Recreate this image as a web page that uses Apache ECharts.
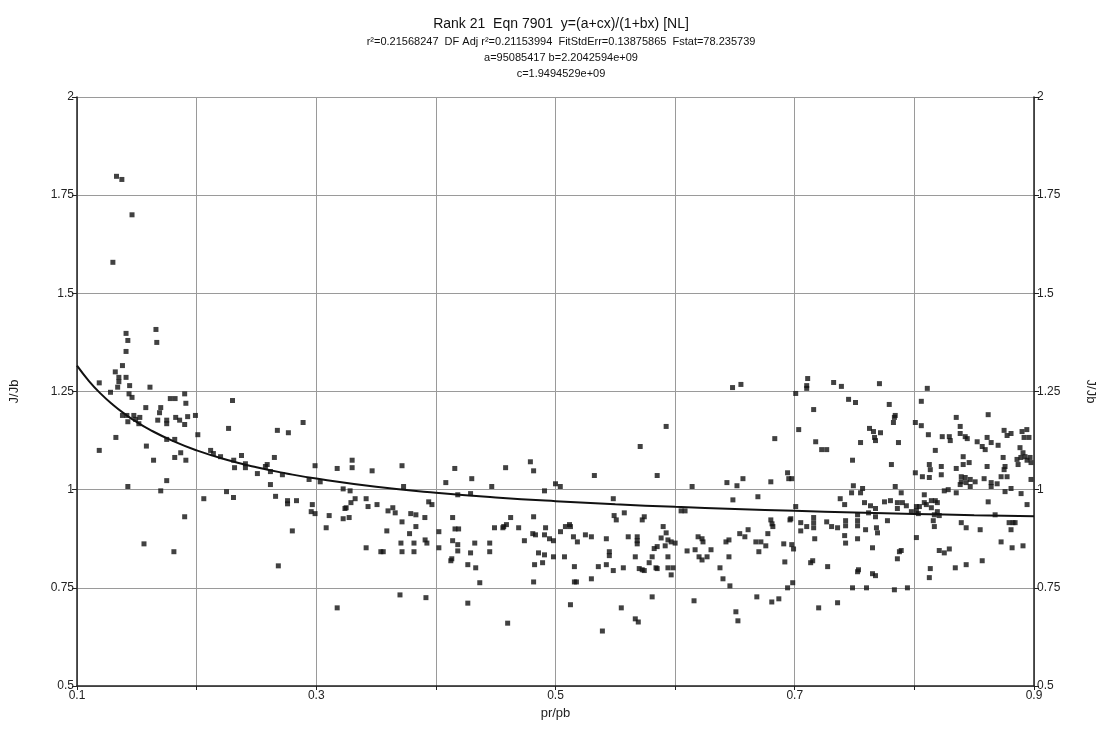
<!DOCTYPE html>
<html>
<head>
<meta charset="utf-8">
<script src="https://cdn.jsdelivr.net/npm/echarts@6/dist/echarts.min.js"></script>
<style>html,body{margin:0;padding:0;background:#fff}#c{width:1105px;height:731px}</style>
</head>
<body>
<div id="c"></div>
<script>
const titleLines = [
  "Rank 21  Eqn 7901  y=(a+cx)/(1+bx) [NL]",
  "r\u00B2=0.21568247  DF Adj r\u00B2=0.21153994  FitStdErr=0.13875865  Fstat=78.235739",
  "a=95085417 b=2.2042594e+09",
  "c=1.9494529e+09"
];
const xName = "pr/pb";
const yName = "J/Jb";
const xTickLabels = ["0.1","0.3","0.5","0.7","0.9"];

const fitX = [0.10,0.11,0.12,0.13,0.14,0.15,0.16,0.18,0.20,0.225,0.25,0.275,0.30,0.35,0.40,0.45,0.50,0.55,0.60,0.65,0.70,0.75,0.80,0.85,0.90];
const fitY = [1.3158,1.2766,1.2439,1.2162,1.1925,1.1720,1.1540,1.1241,1.1001,1.0761,1.0569,1.0413,1.0282,1.0076,0.9922,0.9803,0.9707,0.9628,0.9563,0.9508,0.9460,0.9419,0.9383,0.9351,0.9323];

const pointsLeft = [
[0.133,1.798],[0.1375,1.79],[0.146,1.70],[0.130,1.579],[0.141,1.398],[0.166,1.408],[0.1425,1.38],[0.1667,1.375],
[0.141,1.352],[0.138,1.316],[0.132,1.30],[0.135,1.286],[0.135,1.275],[0.141,1.286],[0.1186,1.272],[0.134,1.261],[0.144,1.265],[0.128,1.248],[0.161,1.261],[0.1435,1.244],[0.146,1.235],[0.19,1.244],[0.178,1.232],[0.182,1.232],[0.191,1.22],[0.1575,1.209],[0.17,1.209],[0.169,1.196],[0.138,1.189],[0.1417,1.189],[0.1475,1.189],[0.1525,1.184],[0.149,1.179],[0.1425,1.173],[0.1517,1.168],[0.1675,1.177],[0.175,1.177],[0.175,1.168],[0.1825,1.184],[0.1858,1.177],[0.1925,1.186],[0.19,1.166],[0.199,1.189],[0.201,1.14],[0.2267,1.156],[0.1325,1.133],[0.175,1.128],[0.1817,1.128],[0.1186,1.10],[0.158,1.111],[0.1867,1.094],[0.1817,1.082],[0.164,1.075],[0.191,1.075],[0.2117,1.10],[0.214,1.092],[0.22,1.084],[0.175,1.023],[0.17,0.997],[0.1425,1.008],[0.206,0.977],[0.225,0.995],[0.19,0.931],[0.156,0.862],[0.181,0.842]
];
const pointsMidLeft = [
[0.23,1.227],[0.289,1.171],[0.2675,1.151],[0.2767,1.145],[0.2375,1.087],[0.231,1.075],[0.2317,1.056],[0.2408,1.066],[0.2408,1.056],[0.265,1.082],[0.259,1.064],[0.2575,1.059],[0.2508,1.041],[0.2617,1.046],[0.2717,1.038],[0.2617,1.013],[0.294,1.026],[0.299,1.061],[0.3033,1.02],[0.3175,1.054],[0.33,1.075],[0.33,1.056],[0.3467,1.048],[0.3717,1.061],[0.373,1.008],[0.2308,0.98],[0.266,0.983],[0.276,0.972],[0.276,0.964],[0.2835,0.972],[0.2967,0.962],[0.2958,0.944],[0.299,0.939],[0.3225,1.002],[0.3283,0.997],[0.3325,0.977],[0.329,0.967],[0.325,0.954],[0.324,0.952],[0.3417,0.977],[0.3433,0.957],[0.3508,0.962],[0.364,0.954],[0.366,0.941],[0.36,0.946],[0.3108,0.934],[0.3225,0.926],[0.3275,0.929],[0.3083,0.903],[0.3717,0.918],[0.379,0.939],[0.3833,0.936],[0.3833,0.906],[0.359,0.895],[0.378,0.888],[0.28,0.895],[0.3417,0.852],[0.354,0.842],[0.356,0.842],[0.3708,0.864],[0.3717,0.842],[0.3817,0.864],[0.3817,0.842],[0.2683,0.806],[0.37,0.732],[0.3175,0.699]
];
const pointsMid = [
[0.4158,1.054],[0.4083,1.018],[0.43,1.028],[0.429,0.99],[0.4183,0.987],[0.4467,1.008],[0.4583,1.056],[0.479,1.071],[0.4817,1.048],[0.4908,0.997],[0.5,1.015],[0.504,1.008],[0.5325,1.036],[0.394,0.969],[0.3967,0.962],[0.3908,0.929],[0.391,0.872],[0.3925,0.864],[0.4025,0.893],[0.4025,0.852],[0.414,0.929],[0.416,0.9],[0.419,0.9],[0.414,0.87],[0.4183,0.86],[0.4183,0.844],[0.4133,0.824],[0.4125,0.819],[0.4267,0.809],[0.429,0.839],[0.4325,0.864],[0.4333,0.801],[0.4367,0.763],[0.445,0.864],[0.445,0.842],[0.449,0.903],[0.456,0.903],[0.4567,0.906],[0.459,0.911],[0.4625,0.929],[0.4692,0.903],[0.474,0.87],[0.4817,0.931],[0.481,0.888],[0.4833,0.885],[0.4908,0.885],[0.4917,0.903],[0.495,0.875],[0.4983,0.87],[0.4858,0.839],[0.4908,0.834],[0.4983,0.829],[0.4825,0.809],[0.4892,0.814],[0.4817,0.765],[0.5042,0.893],[0.5083,0.906],[0.5117,0.911],[0.5125,0.906],[0.515,0.88],[0.5183,0.867],[0.525,0.885],[0.53,0.88],[0.5075,0.829],[0.5158,0.804],[0.5158,0.765],[0.5175,0.765],[0.53,0.773],[0.5358,0.804],[0.3917,0.725],[0.4267,0.711],[0.5125,0.707],[0.46,0.66]
];
const pointsMidRight = [
[0.648,1.26],[0.655,1.268],[0.5925,1.161],[0.5708,1.11],[0.6833,1.13],[0.585,1.036],[0.5483,0.977],[0.6142,1.008],[0.6433,1.018],[0.6517,1.01],[0.6567,1.028],[0.6483,0.974],[0.68,1.02],[0.6692,0.982],[0.549,0.934],[0.5508,0.923],[0.5575,0.941],[0.5725,0.923],[0.5742,0.931],[0.605,0.946],[0.6083,0.946],[0.68,0.923],[0.681,0.913],[0.6817,0.906],[0.5425,0.875],[0.5608,0.88],[0.5683,0.88],[0.5683,0.87],[0.5683,0.862],[0.59,0.906],[0.5925,0.89],[0.5883,0.877],[0.594,0.872],[0.5967,0.867],[0.6,0.864],[0.5917,0.857],[0.585,0.855],[0.5825,0.85],[0.545,0.842],[0.545,0.832],[0.5667,0.829],[0.5808,0.829],[0.594,0.829],[0.5783,0.814],[0.5425,0.809],[0.5483,0.794],[0.5567,0.801],[0.57,0.799],[0.5725,0.796],[0.5742,0.794],[0.584,0.801],[0.585,0.799],[0.594,0.801],[0.5983,0.801],[0.5967,0.783],[0.61,0.844],[0.6167,0.847],[0.6192,0.88],[0.6225,0.875],[0.6233,0.867],[0.62,0.829],[0.6225,0.821],[0.6267,0.829],[0.63,0.847],[0.6425,0.867],[0.645,0.872],[0.645,0.829],[0.6375,0.801],[0.64,0.773],[0.6458,0.755],[0.654,0.888],[0.6583,0.88],[0.661,0.898],[0.6675,0.867],[0.6717,0.867],[0.6758,0.857],[0.67,0.842],[0.6775,0.888],[0.6908,0.862],[0.6917,0.816],[0.694,0.75],[0.5808,0.727],[0.555,0.699],[0.5667,0.671],[0.5692,0.663],[0.5392,0.64],[0.6158,0.717],[0.6508,0.689],[0.6525,0.666],[0.6683,0.727],[0.6808,0.714],[0.6867,0.722],[0.694,1.043]
];
const pointsRight = [
[0.7108,1.283],[0.71,1.265],[0.71,1.258],[0.7008,1.245],[0.7325,1.273],[0.739,1.263],[0.7708,1.27],[0.745,1.23],[0.7508,1.222],[0.7158,1.204],[0.779,1.217],[0.784,1.189],[0.7833,1.184],[0.7825,1.171],[0.7033,1.153],[0.7625,1.156],[0.7658,1.148],[0.7717,1.145],[0.7667,1.133],[0.7675,1.125],[0.7175,1.122],[0.755,1.12],[0.7867,1.12],[0.7225,1.102],[0.7267,1.102],[0.7483,1.075],[0.7808,1.064],[0.695,1.028],[0.6975,1.028],[0.749,1.01],[0.7567,1.003],[0.784,1.008],[0.7475,0.992],[0.755,0.992],[0.789,0.992],[0.738,0.977],[0.7417,0.962],[0.7583,0.967],[0.7633,0.959],[0.7675,0.952],[0.7617,0.941],[0.7675,0.931],[0.775,0.969],[0.78,0.972],[0.7858,0.967],[0.79,0.967],[0.7858,0.952],[0.7933,0.959],[0.7008,0.957],[0.6967,0.926],[0.696,0.923],[0.705,0.916],[0.705,0.895],[0.71,0.906],[0.7158,0.929],[0.7158,0.916],[0.7158,0.903],[0.7167,0.875],[0.7267,0.918],[0.7308,0.906],[0.7358,0.903],[0.7425,0.921],[0.7425,0.908],[0.7525,0.936],[0.7525,0.921],[0.7525,0.908],[0.7592,0.898],[0.7683,0.903],[0.7692,0.89],[0.7775,0.921],[0.7417,0.883],[0.7425,0.864],[0.7525,0.875],[0.765,0.852],[0.6975,0.86],[0.699,0.849],[0.7133,0.814],[0.715,0.819],[0.7275,0.804],[0.7525,0.791],[0.7533,0.796],[0.765,0.786],[0.7675,0.781],[0.7858,0.824],[0.7875,0.842],[0.789,0.845],[0.6983,0.763],[0.7483,0.75],[0.76,0.75],[0.7833,0.745],[0.7942,0.75],[0.72,0.699],[0.7358,0.712]
];
const pointsFarRight = [
[0.8108,1.258],[0.8058,1.225],[0.8617,1.191],[0.835,1.184],[0.8008,1.171],[0.8058,1.163],[0.8383,1.161],[0.8117,1.14],[0.8233,1.135],[0.8292,1.135],[0.83,1.125],[0.8383,1.143],[0.8425,1.135],[0.8442,1.13],[0.8525,1.122],[0.8567,1.11],[0.8592,1.102],[0.8608,1.133],[0.8642,1.12],[0.87,1.113],[0.875,1.151],[0.8775,1.138],[0.8808,1.143],[0.89,1.148],[0.894,1.153],[0.8917,1.133],[0.8958,1.133],[0.8175,1.10],[0.8883,1.107],[0.8908,1.094],[0.889,1.082],[0.8925,1.084],[0.8942,1.075],[0.8967,1.082],[0.8858,1.077],[0.8867,1.064],[0.8975,1.069],[0.8408,1.084],[0.8458,1.069],[0.8408,1.064],[0.8608,1.059],[0.8742,1.082],[0.8758,1.059],[0.875,1.051],[0.8725,1.033],[0.8775,1.033],[0.8125,1.064],[0.8133,1.051],[0.8225,1.059],[0.8225,1.038],[0.8125,1.031],[0.8067,1.033],[0.8008,1.043],[0.835,1.054],[0.8392,1.033],[0.8425,1.031],[0.8467,1.026],[0.8508,1.02],[0.8392,1.02],[0.8433,1.018],[0.8467,1.008],[0.8383,1.013],[0.8583,1.028],[0.8642,1.018],[0.8642,1.008],[0.8692,1.015],[0.8758,0.995],[0.8808,1.003],[0.8892,0.99],[0.8975,1.026],[0.835,0.992],[0.8283,1.0],[0.825,0.997],[0.8017,0.957],[0.8042,0.957],[0.8017,0.946],[0.8083,0.987],[0.8083,0.967],[0.81,0.962],[0.8142,0.972],[0.8142,0.954],[0.8175,0.972],[0.8192,0.967],[0.8192,0.944],[0.8167,0.936],[0.8208,0.934],[0.7975,0.944],[0.8033,0.939],[0.8617,0.969],[0.8942,0.962],[0.8675,0.936],[0.8158,0.921],[0.8167,0.906],[0.8392,0.916],[0.8433,0.903],[0.855,0.898],[0.8792,0.916],[0.8825,0.916],[0.8842,0.916],[0.8808,0.898],[0.8017,0.878],[0.8725,0.867],[0.8817,0.852],[0.8908,0.857],[0.8208,0.845],[0.825,0.839],[0.8292,0.849],[0.8567,0.819],[0.8433,0.809],[0.8342,0.801],[0.8133,0.799],[0.8125,0.776]
];

const scatterData = [].concat(pointsLeft, pointsMidLeft, pointsMid, pointsMidRight, pointsRight, pointsFarRight);
const fitData = fitX.map((x, i) => [x, fitY[i]]);

const FONT = "Liberation Sans, Arial, sans-serif";
const chart = echarts.init(document.getElementById('c'), null, {renderer: 'canvas'});

const titleTops = [12, 31, 47, 63];
const titleSizes = [14, 11, 11, 11];

const yAxisCommon = {
  type: 'value', min: 0.5, max: 2, interval: 0.25,
  axisLine: {show: true, lineStyle: {color: '#222', width: 1.5}},
  axisTick: {show: true, inside: false, length: 5, lineStyle: {color: '#222'}},
  axisLabel: {color: '#222', fontFamily: FONT, fontSize: 12, margin: 3,
    formatter: v => String(parseFloat(v.toFixed(2)))},
  name: yName, nameLocation: 'middle',
  nameTextStyle: {color: '#222', fontFamily: FONT, fontSize: 13}
};

chart.setOption({
  animation: false,
  backgroundColor: '#fff',
  title: titleLines.map((t, i) => ({
    text: t, left: 556, top: titleTops[i], textAlign: 'center',
    textStyle: {fontFamily: FONT, fontSize: titleSizes[i], fontWeight: 'normal', color: '#111'}
  })),
  grid: {left: 76, right: 69, top: 97, bottom: 45, containLabel: false},
  xAxis: {
    type: 'value', min: 0.1, max: 0.9, interval: 0.1,
    axisLine: {show: true, onZero: false, lineStyle: {color: '#222', width: 1.5}},
    axisTick: {show: true, length: 4, lineStyle: {color: '#222'}},
    axisLabel: {color: '#222', fontFamily: FONT, fontSize: 12, margin: 4,
      formatter: v => { const s = String(parseFloat(v.toFixed(1))); return xTickLabels.indexOf(s) >= 0 ? s : ''; }},
    splitLine: {show: true, lineStyle: {color: '#9a9a9a', width: 1}},
    name: xName, nameLocation: 'middle', nameGap: 20,
    nameTextStyle: {color: '#222', fontFamily: FONT, fontSize: 13}
  },
  yAxis: [
    Object.assign({}, yAxisCommon, {position: 'left', nameGap: 56, nameRotate: 90,
      splitLine: {show: true, lineStyle: {color: '#9a9a9a', width: 1}}}),
    Object.assign({}, yAxisCommon, {position: 'right', nameGap: 50, nameRotate: -90,
      splitLine: {show: false}})
  ],
  series: [
    {
      type: 'scatter', data: scatterData, symbol: 'rect', symbolSize: 5,
      itemStyle: {color: '#111'}, xAxisIndex: 0, yAxisIndex: 0, z: 3
    },
    {
      type: 'line', data: fitData, smooth: true, showSymbol: false, symbol: 'none',
      lineStyle: {color: '#111', width: 2}, xAxisIndex: 0, yAxisIndex: 0, z: 4
    }
  ]
});
</script>
</body>
</html>
